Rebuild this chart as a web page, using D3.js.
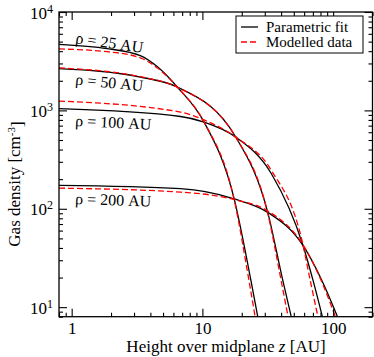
<!DOCTYPE html>
<html><head><meta charset="utf-8">
<script src="https://cdn.jsdelivr.net/npm/d3@7"></script>
<style>
body{margin:0;background:#fff}
svg{display:block}
</style>
</head><body>
<svg id="c" width="374" height="357"></svg>
<script>
// ---- data ----
const seriesNames = ["Parametric fit", "Modelled data"];
const radiiLabels = ["ρ = 25 AU", "ρ = 50 AU", "ρ = 100 AU", "ρ = 200 AU"];

const fitZ25 = [0.8, 1.87, 3.35, 4.53, 6.42, 10.3, 17.5, 23.5, 26.5];
const fitN25 = [4690, 4240, 3600, 2770, 1730, 760, 126, 18.7, 8];
const fitZ50 = [0.8, 3.35, 6.42, 18.0, 31.6, 41.2, 47.8];
const fitN50 = [2656, 2183, 1730, 535, 92, 18.7, 8];
const fitZ100 = [0.8, 6.8, 10.3, 18.0, 33.7, 58.8, 70.2, 82.7];
const fitN100 = [1040, 867, 760, 535, 227, 42.4, 18.7, 8];
const fitZ200 = [0.8, 6.8, 17.5, 31.6, 58.8, 82, 108];
const fitN200 = [172.6, 160, 126, 92, 42.4, 18.7, 8];

const modZ25 = [0.8, 1.87, 3.35, 4.53, 6.42, 10.3, 17.5, 22.7, 25.3];
const modN25 = [4210, 3950, 3420, 2700, 1730, 760, 124, 18.7, 8];
const modZ50 = [0.8, 3.35, 6.42, 18.0, 31.6, 40.0, 45.2];
const modN50 = [2700, 2200, 1720, 535, 90, 18.7, 8];
const modZ100 = [0.8, 6.8, 10.3, 18.0, 33.7, 58.8, 66.8, 76.5];
const modN100 = [1244, 961, 800, 535, 245, 43, 18.7, 8];
const modZ200 = [0.8, 6.8, 17.5, 31.6, 58.8, 81, 104];
const modN200 = [162, 147.6, 124, 95, 43, 18.7, 8];

const xMajor = [1, 10, 100];
const xMajorText = ["1", "10", "100"];
const yMajor = [10, 100, 1000, 10000];
const yMajorExp = ["1", "2", "3", "4"];

// ---- font detection (Times-like serif preferred) ----
function pickFont() {
  const c = document.createElement("canvas").getContext("2d");
  const s = "Height over midplane z [AU] mmmmWWWiii";
  const w = f => { c.font = "40px " + f; return c.measureText(s).width; };
  const cands = ["Liberation Serif", "Tinos", "Times New Roman", "Times", "Nimbus Roman", "FreeSerif"];
  for (const f of cands) {
    const q = `"${f}"`;
    if (w(q + ",monospace") !== w("monospace") && w(q + ",sans-serif") !== w("sans-serif")) return { fam: q, k: 1 };
  }
  return { fam: '"DejaVu Serif"', k: 0.86 };
}
const FONT = pickFont();
const fs = v => v * FONT.k;

// ---- layout ----
const L = 59, R = 372.5, T = 12, B = 316.7;
const svg = d3.select("#c");
const x = d3.scaleLog().domain([0.8, 200]).range([L, R]);
const y = d3.scaleLog().domain([8, 10000]).range([B, T]);

function minors(lo, hi) {
  const out = [];
  for (let e = Math.floor(Math.log10(lo)); e <= Math.ceil(Math.log10(hi)); e++)
    for (let m = 2; m <= 9; m++) { const v = m * Math.pow(10, e); if (v >= lo && v <= hi) out.push(v); }
  return out;
}
const xMinor = minors(0.8, 200);
const yMinor = minors(8, 10000);

const g = svg.append("g");
const line = d3.line().x(d => x(d[0])).y(d => y(d[1])).curve(d3.curveMonotoneX);
const zip = (a, b) => a.map((v, i) => [v, b[i]]);
g.append("clipPath").attr("id", "clip").append("rect").attr("x", L).attr("y", T).attr("width", R - L).attr("height", B - T);
const curves = g.append("g").attr("clip-path", "url(#clip)");
[[fitZ25, fitN25], [fitZ50, fitN50], [fitZ100, fitN100], [fitZ200, fitN200]].forEach(([a, b]) => {
  curves.append("path").attr("d", line(zip(a, b))).attr("fill", "none").attr("stroke", "#000").attr("stroke-width", 1.3);
});
[[modZ25, modN25], [modZ50, modN50], [modZ100, modN100], [modZ200, modN200]].forEach(([a, b]) => {
  curves.append("path").attr("d", line(zip(a, b))).attr("fill", "none").attr("stroke", "#ff0000").attr("stroke-width", 1.3).attr("stroke-dasharray", "6,3");
});

// axes
function styleAxis(sel) { sel.select(".domain").remove(); sel.selectAll("line").attr("stroke", "#000").attr("stroke-width", 1.1); }
const MJ = 8, MN = 4;
const xa = g.append("g").attr("transform", `translate(0,${B})`).call(d3.axisBottom(x).tickValues(xMajor).tickSize(-MJ).tickPadding(5).tickFormat((d, i) => xMajorText[i])).call(styleAxis);
xa.selectAll("text").attr("font-size", fs(17)).attr("font-family", FONT.fam).attr("fill", "#000");
g.append("g").attr("transform", `translate(0,${B})`).call(d3.axisBottom(x).tickValues(xMinor).tickSize(-MN).tickFormat("")).call(styleAxis);
g.append("g").attr("transform", `translate(0,${T})`).call(d3.axisTop(x).tickValues(xMajor).tickSize(-MJ).tickFormat("")).call(styleAxis);
g.append("g").attr("transform", `translate(0,${T})`).call(d3.axisTop(x).tickValues(xMinor).tickSize(-MN).tickFormat("")).call(styleAxis);

const yl = g.append("g").attr("transform", `translate(${L},0)`).call(d3.axisLeft(y).tickValues(yMajor).tickSize(-MJ).tickFormat("")).call(styleAxis);
yl.selectAll(".tick").each(function (d, i) {
  const t = d3.select(this).append("text").attr("x", -6).attr("dy", "0.36em").attr("text-anchor", "end")
    .attr("font-size", fs(17)).attr("font-family", FONT.fam).attr("fill", "#000");
  t.append("tspan").text("10");
  t.append("tspan").attr("dy", "-0.5em").attr("font-size", fs(12)).text(yMajorExp[i]);
});
g.append("g").attr("transform", `translate(${L},0)`).call(d3.axisLeft(y).tickValues(yMinor).tickSize(-MN).tickFormat("")).call(styleAxis);
g.append("g").attr("transform", `translate(${R},0)`).call(d3.axisRight(y).tickValues(yMajor).tickSize(-MJ).tickFormat("")).call(styleAxis);
g.append("g").attr("transform", `translate(${R},0)`).call(d3.axisRight(y).tickValues(yMinor).tickSize(-MN).tickFormat("")).call(styleAxis);

g.append("rect").attr("x", L).attr("y", T).attr("width", R - L).attr("height", B - T).attr("fill", "none").attr("stroke", "#000").attr("stroke-width", 1.3);

// curve labels
const labPos = [[75, 43, 8.4], [75, 84.5, 5.5], [75, 126, 2.8], [75, 204, 2]];
radiiLabels.forEach((s, i) => {
  const [px, py, rot] = labPos[i];
  g.append("text").attr("transform", `translate(${px},${py}) rotate(${rot})`).attr("font-size", fs(16)).attr("font-family", FONT.fam).text(s);
});

// axis titles
const xt = g.append("text").attr("x", 226).attr("y", 352).attr("text-anchor", "middle").attr("font-size", fs(17)).attr("font-family", FONT.fam);
xt.append("tspan").text("Height over midplane ");
xt.append("tspan").attr("font-style", "italic").text("z");
xt.append("tspan").text(" [AU]");
const yt = g.append("text").attr("transform", `translate(20,184) rotate(-90)`).attr("text-anchor", "middle").attr("font-size", fs(17)).attr("font-family", FONT.fam);
yt.append("tspan").text("Gas density [cm");
yt.append("tspan").attr("dy", "-0.5em").attr("font-size", fs(11)).text("-3");
yt.append("tspan").attr("dy", "0.5em").text("]");

// legend
const lg = g.append("g");
lg.append("rect").attr("x", 236).attr("y", 16).attr("width", 127).attr("height", 37).attr("fill", "#fff").attr("stroke", "#000").attr("stroke-width", 1);
lg.append("line").attr("x1", 241).attr("x2", 258).attr("y1", 27).attr("y2", 27).attr("stroke", "#000").attr("stroke-width", 1.3);
lg.append("line").attr("x1", 241).attr("x2", 258).attr("y1", 42).attr("y2", 42).attr("stroke", "#ff0000").attr("stroke-width", 1.3).attr("stroke-dasharray", "6,3");
lg.append("text").attr("x", 266).attr("y", 31.5).attr("font-size", fs(15)).attr("font-family", FONT.fam).text(seriesNames[0]);
lg.append("text").attr("x", 266).attr("y", 46.5).attr("font-size", fs(15)).attr("font-family", FONT.fam).text(seriesNames[1]);
</script>
</body></html>
